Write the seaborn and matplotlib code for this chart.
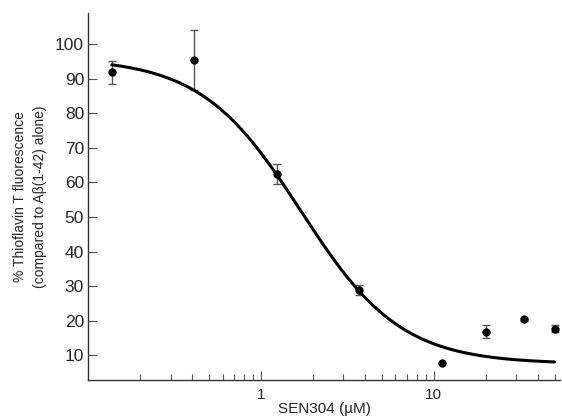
import numpy as np
import pandas as pd
import seaborn as sns
import matplotlib.pyplot as plt
from matplotlib.ticker import FixedLocator, NullFormatter

# SEN304 concentrations (uM) and ThT fluorescence (% of Abeta alone)
conc = [0.137, 0.41, 1.23, 3.7, 11.1, 20, 33.3, 50]
fluor = [91.8, 95.4, 62.4, 28.9, 7.8, 16.8, 20.4, 17.6]
err = [3.3, 8.8, 3.0, 1.5, 0.0, 1.8, 0.5, 1.0]

# fitted dose-response curve parameters
top, bottom, ec50, hill = 96.0, 7.5, 1.7, 1.5

sns.set_style("ticks")
plt.rcParams["font.family"] = ["Liberation Sans", "DejaVu Sans"]

df = pd.DataFrame({"conc": conc, "fluor": fluor, "err": err})
xs = np.logspace(np.log10(conc[0]), np.log10(conc[-1]), 200)
fit = pd.DataFrame({"conc": xs, "fluor": bottom + (top - bottom) / (1 + (xs / ec50) ** hill)})

fig = plt.figure(figsize=(5.62, 4.2), dpi=100)
ax = fig.add_axes([0.157, 0.095, 0.84, 0.874])

ax.errorbar(df["conc"], df["fluor"], yerr=df["err"], fmt="none",
            ecolor="#555555", elinewidth=1, capsize=3, capthick=1, zorder=2)
sns.lineplot(data=fit, x="conc", y="fluor", color="black", linewidth=2.2, ax=ax, zorder=3)
sns.scatterplot(data=df, x="conc", y="fluor", color="black", s=36, edgecolor="black",
                linewidth=0, ax=ax, zorder=4)

ax.set_xscale("log")
ax.set_xlim(0.1, 54)
ax.set_ylim(2.8, 109)
ax.xaxis.set_major_locator(FixedLocator([1, 10]))
ax.xaxis.set_minor_locator(FixedLocator([0.2, 0.3, 0.4, 0.5, 0.6, 0.7, 0.8, 0.9,
                                         2, 3, 4, 5, 6, 7, 8, 9, 20, 30, 40, 50]))
ax.xaxis.set_minor_formatter(NullFormatter())
ax.set_xticklabels(["1", "10"])
ax.set_yticks(range(10, 101, 10))

sns.despine(ax=ax)
for s in ["left", "bottom"]:
    ax.spines[s].set_color("#333333")
    ax.spines[s].set_linewidth(1)
ax.tick_params(axis="both", which="major", direction="in", length=6.5, width=0.8,
               color="#555555")
ax.tick_params(axis="y", labelsize=12.5, pad=3)
ax.tick_params(axis="x", labelsize=11, pad=6)
ax.tick_params(axis="x", which="minor", direction="in", length=4.5, width=0.8, color="#555555")

ax.set_xlabel("SEN304 (\u00b5M)", fontsize=11, labelpad=0)
ax.set_ylabel("% Thioflavin T fluorescence\n(compared to A\u03b2(1-42) alone)", fontsize=10,
              labelpad=6, linespacing=1.5)

fig.savefig("out.png", dpi=100)
